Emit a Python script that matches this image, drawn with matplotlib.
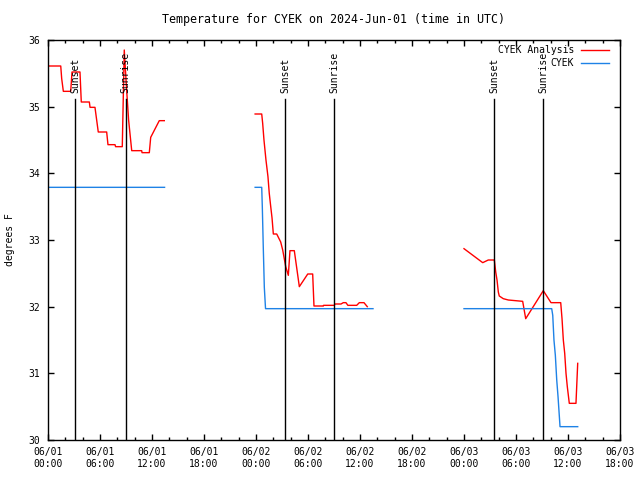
import matplotlib
matplotlib.use("Agg")
import matplotlib.pyplot as plt
import matplotlib.dates as mdates
import numpy as np
import pandas as pd

base = pd.Timestamp("2024-06-01 00:00")

# hours after 06/01 00:00 UTC, NaN breaks the line between runs
anl_hours = [0.0, 1.47, 1.58, 1.77, 2.62, 2.77, 3.69, 3.84, 4.77, 4.85, 5.42, 5.80,
             6.77, 6.92, 7.73, 7.80, 8.57, 8.80, 9.05, 9.30, 9.66, 10.81, 10.85, 11.69,
             11.85, 12.84, 13.42,
             np.nan,
             23.9, 24.66, 24.77, 24.92, 25.15, 25.38, 25.53, 25.70, 25.85, 26.0, 26.39,
             26.85, 27.08, 27.43, 27.73, 27.92, 28.42, 29.0, 29.97, 30.54, 30.69, 31.77,
             31.8, 33.04, 33.1, 33.81, 34.07, 34.38, 34.6, 34.85, 35.62, 35.92, 36.46, 36.84,
             np.nan,
             48.0, 50.16, 50.8, 51.5, 51.66, 51.81, 51.96, 52.07, 52.53, 53.11, 54.77,
             55.12, 57.15, 58.04, 59.16, 59.31, 59.46, 59.62, 59.77, 59.92, 60.15, 60.92, 61.12]
anl_temp = [35.61, 35.61, 35.42, 35.23, 35.23, 35.52, 35.52, 35.07, 35.07, 34.99, 34.99, 34.62,
            34.62, 34.43, 34.43, 34.40, 34.40, 35.85, 35.30, 34.80, 34.34, 34.34, 34.31, 34.31,
            34.54, 34.79, 34.79,
            np.nan,
            34.89, 34.89, 34.75, 34.50, 34.20, 33.95, 33.70, 33.50, 33.33, 33.09, 33.09,
            32.97, 32.85, 32.60, 32.47, 32.84, 32.84, 32.30, 32.49, 32.49, 32.01, 32.01,
            32.02, 32.02, 32.04, 32.04, 32.06, 32.06, 32.02, 32.02, 32.02, 32.06, 32.06, 32.00,
            np.nan,
            32.87, 32.66, 32.70, 32.70, 32.52, 32.40, 32.22, 32.16, 32.12, 32.10, 32.08,
            31.82, 32.24, 32.06, 32.06, 31.82, 31.50, 31.30, 31.00, 30.80, 30.55, 30.55, 31.15]

obs_hours = [0.0, 13.45,
             np.nan,
             23.9, 24.66, 24.73, 24.84, 24.96, 25.1, 37.5,
             np.nan,
             48.0, 58.12, 58.24, 58.38, 58.54, 58.70, 58.85, 59.08, 61.12]
obs_temp = [33.79, 33.79,
            np.nan,
            33.79, 33.79, 33.49, 32.89, 32.29, 31.97, 31.97,
            np.nan,
            31.97, 31.97, 31.87, 31.50, 31.27, 30.90, 30.65, 30.20, 30.20]

sunset_hours = [3.15, 27.38, 51.5]
sunrise_hours = [8.96, 33.04, 57.15]


def to_time(hours):
    return [base + pd.Timedelta(hours=h) if not np.isnan(h) else pd.NaT for h in hours]


plt.rcParams["font.family"] = "DejaVu Sans Mono"
plt.rcParams["font.size"] = 7

fig = plt.figure(figsize=(6.4, 4.8), dpi=100)
ax = fig.add_axes([48 / 640, 40 / 480, 572 / 640, 400 / 480])

red = "#ff0000"
blue = "#1e82e6"

anl_t = pd.Series(to_time(anl_hours))
obs_t = pd.Series(to_time(obs_hours))
ax.plot(anl_t, anl_temp, color=red, lw=1)
ax.plot(obs_t, obs_temp, color=blue, lw=1)

for label, hrs in (("Sunset", sunset_hours), ("Sunrise", sunrise_hours)):
    for h in hrs:
        t = base + pd.Timedelta(hours=h)
        ax.plot([t, t], [30, 35.11], color="black", lw=1)
        ax.text(t, 35.21, label, rotation=90, ha="center", va="bottom")

ax.set_xlim(base, base + pd.Timedelta(hours=66))
ax.set_ylim(30, 36)
ax.set_yticks(range(30, 37))
ax.xaxis.set_major_locator(mdates.HourLocator(byhour=range(0, 24, 6)))
ax.xaxis.set_minor_locator(mdates.HourLocator(interval=2))
ax.xaxis.set_major_formatter(mdates.DateFormatter("%m/%d\n%H:%M"))

ax.tick_params(which="both", direction="in", top=True, right=True, width=1)
ax.tick_params(which="major", length=4)
ax.tick_params(which="minor", length=2.5)
ax.tick_params(axis="x", pad=5)
ax.tick_params(axis="y", pad=6)
for s in ax.spines.values():
    s.set_linewidth(1)

ax.set_ylabel("degrees F")
ax.yaxis.set_label_coords(-0.058, 0.5)
ax.set_title("Temperature for CYEK on 2024-Jun-01 (time in UTC)", pad=12)

# gnuplot-style key, right-justified text
ax.text(0.920, 0.975, "CYEK Analysis", transform=ax.transAxes, ha="right", va="center")
ax.plot([0.932, 0.981], [0.975, 0.975], transform=ax.transAxes, color=red, lw=1)
ax.text(0.920, 0.942, "CYEK", transform=ax.transAxes, ha="right", va="center")
ax.plot([0.932, 0.981], [0.942, 0.942], transform=ax.transAxes, color=blue, lw=1)

fig.savefig("out.png", dpi=100)
